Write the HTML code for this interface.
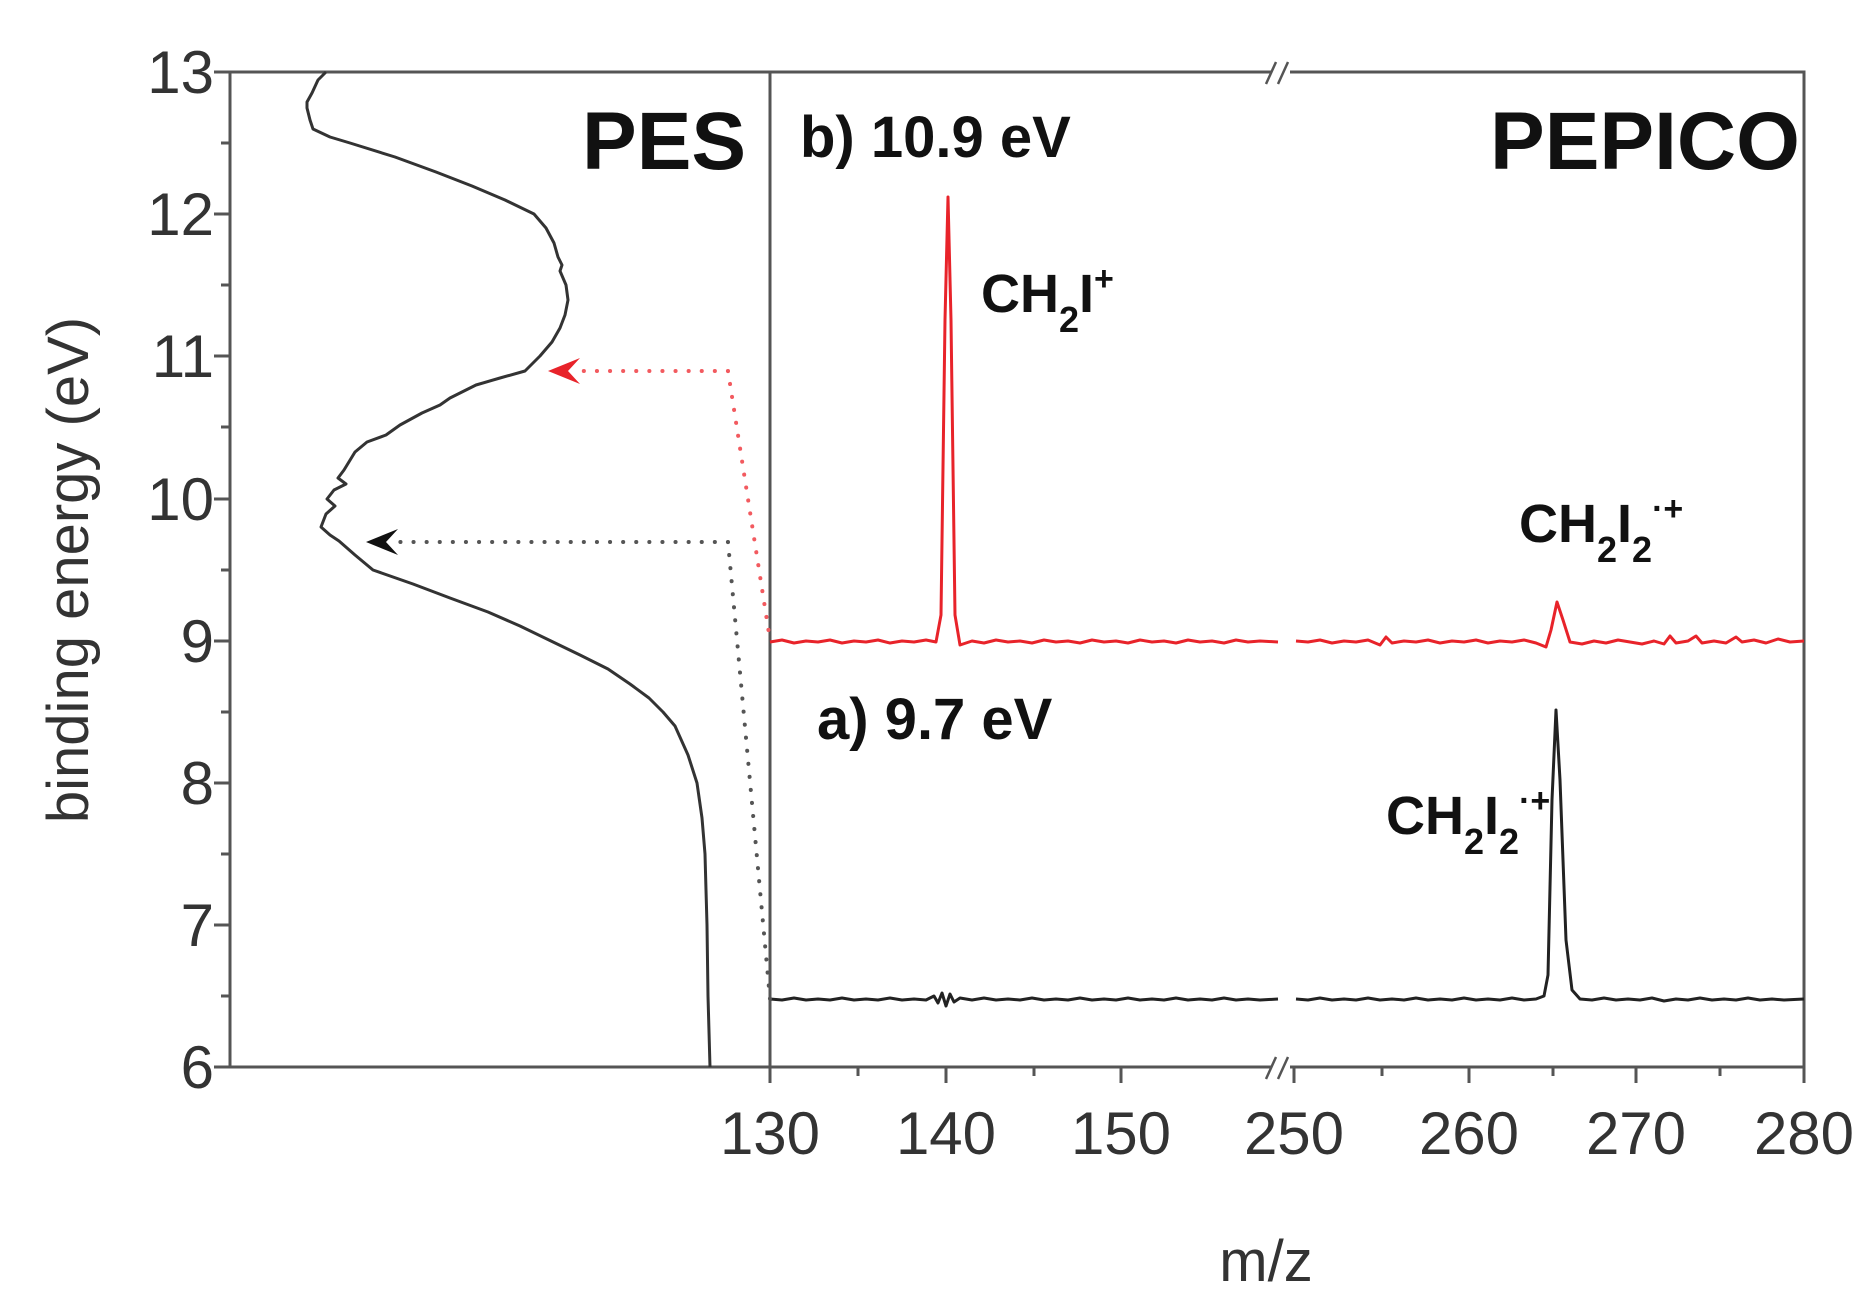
<!DOCTYPE html>
<html><head><meta charset="utf-8"><style>
html,body{margin:0;padding:0;background:#fff;}
svg{display:block;}
text{font-family:"Liberation Sans",sans-serif;}
</style></head><body>
<svg width="1875" height="1309" viewBox="0 0 1875 1309" xmlns="http://www.w3.org/2000/svg">
<rect width="1875" height="1309" fill="#fff"/>
<g stroke="#555" stroke-width="3" fill="none">
<rect x="230" y="72" width="1574" height="995"/>
<line x1="770" y1="72" x2="770" y2="1067"/>
</g>
<g stroke="#555" stroke-width="3">
<line x1="214" y1="1067" x2="230" y2="1067"/><line x1="221" y1="996" x2="230" y2="996"/>
<line x1="214" y1="925" x2="230" y2="925"/><line x1="221" y1="854" x2="230" y2="854"/>
<line x1="214" y1="783" x2="230" y2="783"/><line x1="221" y1="712" x2="230" y2="712"/>
<line x1="214" y1="641" x2="230" y2="641"/><line x1="221" y1="570" x2="230" y2="570"/>
<line x1="214" y1="499" x2="230" y2="499"/><line x1="221" y1="427" x2="230" y2="427"/>
<line x1="214" y1="356" x2="230" y2="356"/><line x1="221" y1="285" x2="230" y2="285"/>
<line x1="214" y1="214" x2="230" y2="214"/><line x1="221" y1="143" x2="230" y2="143"/>
<line x1="214" y1="72" x2="230" y2="72"/>
<line x1="770" y1="1067" x2="770" y2="1083"/><line x1="858" y1="1067" x2="858" y2="1076"/>
<line x1="946" y1="1067" x2="946" y2="1083"/><line x1="1034" y1="1067" x2="1034" y2="1076"/>
<line x1="1121" y1="1067" x2="1121" y2="1083"/>
<line x1="1294" y1="1067" x2="1294" y2="1083"/><line x1="1382" y1="1067" x2="1382" y2="1076"/>
<line x1="1469" y1="1067" x2="1469" y2="1083"/><line x1="1553" y1="1067" x2="1553" y2="1076"/>
<line x1="1636" y1="1067" x2="1636" y2="1083"/><line x1="1720" y1="1067" x2="1720" y2="1076"/>
<line x1="1804" y1="1067" x2="1804" y2="1083"/>
</g>
<rect x="1272" y="64" width="18" height="16" fill="#fff"/>
<rect x="1272" y="1059" width="18" height="16" fill="#fff"/>
<g stroke="#555" stroke-width="2.5">
<line x1="1266" y1="84" x2="1276" y2="62"/><line x1="1278" y1="84" x2="1288" y2="62"/>
<line x1="1266" y1="1079" x2="1276" y2="1057"/><line x1="1278" y1="1079" x2="1288" y2="1057"/>
</g>
<g font-size="60" fill="#333" text-anchor="end">
<text x="214" y="1088">6</text><text x="214" y="946">7</text><text x="214" y="804">8</text>
<text x="214" y="662">9</text><text x="214" y="520">10</text><text x="214" y="377">11</text>
<text x="214" y="235">12</text><text x="214" y="93">13</text>
</g>
<g font-size="60" fill="#333" text-anchor="middle">
<text x="770" y="1154">130</text><text x="946" y="1154">140</text><text x="1121" y="1154">150</text>
<text x="1294" y="1154">250</text><text x="1469" y="1154">260</text><text x="1636" y="1154">270</text><text x="1804" y="1154">280</text>
</g>
<text transform="translate(88,570) rotate(-90)" font-size="58" fill="#333" text-anchor="middle">binding energy (eV)</text>
<text x="1266" y="1281" font-size="58" fill="#333" text-anchor="middle">m/z</text>
<path fill="none" stroke="#333" stroke-width="3" stroke-linejoin="round" d="M326 72 L318 80 L312 93 L307 102 L307 108 L310 120 L313 129 L330 137 L350 143 L395 157 L436 172 L472 186 L505 200 L534 214 L546 228 L554 243 L558 257 L562 265 L560 271 L566 285 L568 300 L565 315 L560 328 L552 342 L540 356 L525 371 L500 378 L476 385 L450 398 L440 405 L422 413 L400 425 L386 435 L367 442 L355 452 L344 470 L338 478 L346 484 L334 490 L327 499 L335 506 L326 514 L321 527 L330 535 L339 541 L355 555 L373 570 L413 584 L450 598 L488 612 L520 626 L551 641 L580 655 L608 669 L630 684 L649 698 L663 712 L675 726 L688 755 L697 783 L702 818 L705 854 L706 890 L707 925 L708 996 L710 1067"/>
<path fill="none" stroke="#e8232a" stroke-width="3" stroke-linejoin="round" d="M770 642 L782 640 L794 643 L806 641 L818 642 L830 640 L842 643 L854 641 L866 642 L878 640 L890 643 L902 641 L914 642 L926 640 L936 642 L941 615 L945 320 L948 197 L951 320 L955 615 L960 645 L972 641 L984 643 L996 640 L1008 642 L1020 641 L1032 643 L1044 640 L1056 642 L1068 641 L1080 643 L1092 640 L1104 642 L1116 641 L1128 643 L1140 640 L1152 642 L1164 641 L1176 643 L1188 640 L1200 642 L1212 641 L1224 643 L1236 640 L1248 642 L1260 641 L1278 642 M1296 641 L1308 642 L1320 640 L1332 643 L1344 641 L1356 642 L1368 640 L1380 645 L1386 637 L1392 643 L1404 641 L1416 642 L1428 640 L1440 643 L1452 641 L1464 642 L1476 640 L1488 643 L1500 641 L1512 642 L1524 640 L1536 643 L1546 647 L1551 630 L1557 602 L1563 620 L1570 642 L1582 644 L1594 641 L1606 643 L1618 640 L1630 642 L1642 644 L1654 641 L1664 644 L1670 636 L1676 643 L1688 641 L1696 636 L1702 643 L1714 641 L1726 643 L1736 637 L1742 642 L1754 640 L1766 643 L1778 639 L1790 642 L1804 641"/>
<path fill="none" stroke="#222" stroke-width="3" stroke-linejoin="round" d="M770 999 L782 1000 L794 998 L806 1000 L818 999 L830 1000 L842 998 L854 1000 L866 999 L878 1000 L890 998 L902 1000 L914 999 L926 1000 L934 996 L938 1003 L942 993 L946 1006 L950 994 L954 1002 L960 998 L972 1000 L984 998 L996 1000 L1008 999 L1020 1000 L1032 998 L1044 1000 L1056 999 L1068 1000 L1080 998 L1092 1000 L1104 999 L1116 1000 L1128 998 L1140 1000 L1152 999 L1164 1000 L1176 998 L1188 1000 L1200 999 L1212 1000 L1224 998 L1236 1000 L1248 999 L1260 1000 L1278 999 M1296 999 L1308 1000 L1320 998 L1332 1000 L1344 999 L1356 1000 L1368 998 L1380 1000 L1392 999 L1404 1000 L1416 998 L1428 1000 L1440 999 L1452 1000 L1464 998 L1476 1000 L1488 999 L1500 1000 L1512 998 L1524 1000 L1536 999 L1544 996 L1548 975 L1552 800 L1556 710 L1560 780 L1566 940 L1572 990 L1580 999 L1592 1000 L1604 998 L1616 1000 L1628 999 L1640 1000 L1652 998 L1664 1001 L1676 999 L1688 1000 L1700 998 L1712 1000 L1724 999 L1736 1000 L1748 998 L1760 1000 L1772 999 L1784 1000 L1804 999"/>
<g fill="none" stroke-width="4" stroke-dasharray="0.1 13" stroke-linecap="round">
<path d="M728 371 L575 371 M728 371 L770 640" stroke="#f25a5f"/>
<path d="M728 542 L392 542 M728 542 L770 999" stroke="#555"/>
</g>
<path d="M548 371 L580 358 L568 371 L580 384 Z" fill="#e8232a"/>
<path d="M366 542 L398 529 L386 542 L398 555 Z" fill="#111"/>
<g font-weight="bold" fill="#111">
<text x="582" y="169" font-size="82">PES</text>
<text x="1490" y="169" font-size="82">PEPICO</text>
<text x="800" y="157" font-size="58">b) 10.9 eV</text>
<text x="817" y="739" font-size="58">a) 9.7 eV</text>
<text x="981" y="312" font-size="54">CH<tspan font-size="36" dy="20">2</tspan><tspan dy="-20">I</tspan><tspan font-size="34" dy="-22">+</tspan></text>
<text x="1519" y="542" font-size="54">CH<tspan font-size="36" dy="20">2</tspan><tspan dy="-20">I</tspan><tspan font-size="36" dy="20">2</tspan><tspan font-size="34" dy="-42">·+</tspan></text>
<text x="1386" y="834" font-size="54">CH<tspan font-size="36" dy="20">2</tspan><tspan dy="-20">I</tspan><tspan font-size="36" dy="20">2</tspan><tspan font-size="34" dy="-42">·+</tspan></text>
</g>
</svg>
</body></html>
